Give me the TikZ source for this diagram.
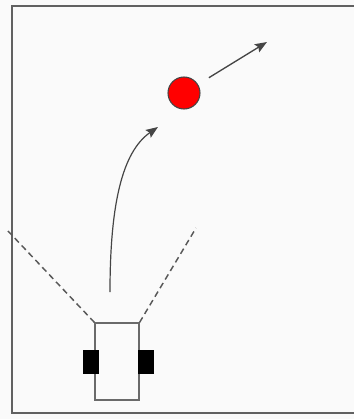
\documentclass[tikz,border=0pt]{standalone}
\usepackage{xcolor}
\usepackage{tikz}
\usetikzlibrary{arrows.meta}
\definecolor{paper}{HTML}{FAFAFA}
\definecolor{ink}{HTML}{454545}

\begin{document}
\begin{tikzpicture}[x=0.75pt, y=-0.75pt, >={Stealth[length=9pt, width=7pt, inset=1.5pt]}, line width=0.9pt]
  \useasboundingbox (0,0) rectangle (354,419);
  \fill[paper] (0,0) rectangle (354,419);
  \draw[ink!85, line width=1.4pt] (354,6) -- (12,6) -- (12,413) -- (354,413);
  \node[draw=ink!80, fill=paper, line width=0.8pt, minimum width=33pt, minimum height=57.75pt, inner sep=0pt]
        (robot) at (117,361.5) {};
  \node[fill=black, minimum width=12pt, minimum height=18pt, inner sep=0pt] (wheelL) at (91,362) {};
  \node[fill=black, minimum width=12pt, minimum height=18pt, inner sep=0pt] (wheelR) at (146,362) {};
  \node[circle, draw=ink, fill=red, line width=0.8pt, minimum size=24pt, inner sep=0pt] (ball) at (184,93) {};
  \coordinate (viewL) at (8,231);
  \coordinate (viewR) at (196,228);
  \coordinate (start) at (110,292);
  \coordinate (aim) at (158,127);
  \coordinate (kick) at (267,42);
  \draw[ink!90, line width=1.1pt, dash pattern=on 4.5pt off 3pt] (robot.north west) -- (viewL);
  \draw[ink!90, line width=1.1pt, dash pattern=on 4.5pt off 3pt] (robot.north east) -- (viewR);
  \draw[->, ink] (start) .. controls (110,205) and (122,152) .. (aim);
  \draw[->, ink, line width=1pt, shorten <=9.5pt] (ball) -- (kick);
\end{tikzpicture}
\end{document}
